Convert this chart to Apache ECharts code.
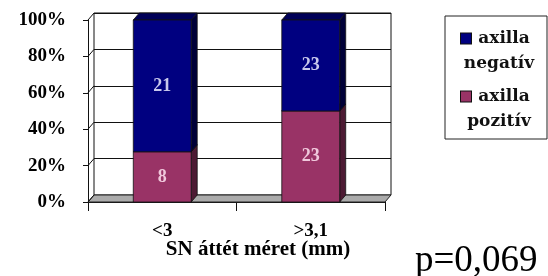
<!DOCTYPE html>
<html lang="hu">
<head>
    <meta charset="UTF-8">
    <title>SN áttét méret</title>
    <script src="https://cdn.jsdelivr.net/npm/echarts@6/dist/echarts.min.js"></script>
</head>
<body style="margin: 0; background: #fff">
<div id="chart" style="width: 548px; height: 276px"></div>
<script>
    // values
    let categories = ['<3', '>3,1'];
    let pozitivCount = [8, 23];
    let negativCount = [21, 23];
    let seriesNames = ['axilla negatív', 'axilla pozitív'];
    let yTicks = [0, 20, 40, 60, 80, 100];

    // depth of the old excel 3d look
    let DX = 6, DY = 7;
    let serif = '"Liberation Serif", "Times New Roman", serif';
    let legendFont = '"DejaVu Serif", serif';
    let seriesColors = ['#000080', '#993366'];

    let pozData = [], negData = [];
    for (let i = 0; i < categories.length; i++) {
        let total = pozitivCount[i] + negativCount[i];
        let p = pozitivCount[i] / total * 100;
        pozData.push([i, 0, p, pozitivCount[i]]);
        negData.push([i, p, 100, negativCount[i]]);
    }

    function box3d(colors, labelColor) {
        return function (params, api) {
            let cat = api.value(0);
            let lo = api.coord([cat, api.value(1)]);
            let hi = api.coord([cat, api.value(2)]);
            let w = api.size([1, 0])[0] * 0.39;
            let x0 = lo[0] - w / 2, x1 = lo[0] + w / 2;
            let yb = lo[1], yt = hi[1];
            let edge = {stroke: '#111', lineWidth: 0.8};
            return {
                type: 'group',
                children: [
                    {type: 'polygon', shape: {points: [[x1, yt], [x1 + DX, yt - DY], [x1 + DX, yb - DY], [x1, yb]]},
                        style: Object.assign({fill: colors[1]}, edge)},
                    {type: 'polygon', shape: {points: [[x0, yt], [x0 + DX, yt - DY], [x1 + DX, yt - DY], [x1, yt]]},
                        style: Object.assign({fill: colors[2]}, edge)},
                    {type: 'rect', shape: {x: x0, y: yt, width: x1 - x0, height: yb - yt},
                        style: Object.assign({fill: colors[0]}, edge)},
                    {type: 'text', x: (x0 + x1) / 2, y: (yt + yb) / 2,
                        style: {text: String(api.value(3)), fill: labelColor, font: 'bold 18px ' + serif,
                            align: 'center', verticalAlign: 'middle'}}
                ]
            };
        };
    }

    // floor plate and the little diagonals on the left wall
    function frame(params, api) {
        let v = api.value(1);
        let pt = api.coord([0, v]);
        let cs = params.coordSys;
        let x0 = cs.x, x1 = cs.x + cs.width;
        let children = [
            {type: 'line', shape: {x1: x0, y1: pt[1], x2: x0 + DX, y2: pt[1] - DY}, style: {stroke: '#111', lineWidth: 1}}
        ];
        if (v === 0) {
            children.unshift({
                type: 'polygon',
                shape: {points: [[x0, pt[1]], [x0 + DX, pt[1] - DY], [x1 + DX, pt[1] - DY], [x1, pt[1]]]},
                style: {fill: '#ababab', stroke: '#222', lineWidth: 1}
            });
        }
        return {type: 'group', children: children};
    }

    let legendRich = {
        a: {fontFamily: legendFont, fontSize: 17, fontWeight: 'bold', color: '#111', lineHeight: 25, height: 25, width: 60, align: 'center'},
        b: {fontFamily: legendFont, fontSize: 17, fontWeight: 'bold', color: '#111', lineHeight: 25, height: 25, width: 76, align: 'center'}
    };
    seriesColors.forEach(function (c, i) {
        legendRich['sq' + i] = {width: 10, height: 10, backgroundColor: c, borderColor: '#111', borderWidth: 1};
    });

    let chart = echarts.init(document.getElementById('chart'));
    let option = {
        animation: false,
        title: [
            {
                text: 'SN áttét méret (mm)', left: 258, top: 239, textAlign: 'center', padding: 0,
                textStyle: {fontFamily: serif, fontSize: 21, fontWeight: 'bold', color: '#000'}
            },
            {
                text: 'p=0,069', left: 415, top: 243, padding: 0,
                textStyle: {fontFamily: serif, fontSize: 37, fontWeight: 'normal', color: '#000'}
            }
        ],
        legend: {
            data: seriesNames.map(n => ({name: n, icon: 'none'})),
            orient: 'vertical',
            left: 445,
            top: 16,
            padding: [10, 10, 5, 11],
            itemWidth: 0,
            itemHeight: 2,
            itemGap: 8,
            borderColor: '#222',
            borderWidth: 1,
            formatter: function (name) {
                let i = seriesNames.indexOf(name);
                let parts = name.split(' ');
                return '{sq' + (i === 0 ? 0 : 1) + '|}{a|' + parts[0] + '}\n{b|' + parts[1] + '}';
            },
            textStyle: {rich: legendRich}
        },
        grid: [
            {left: 88, right: 163, top: 20, bottom: 74},
            {left: 88 + DX, right: 163 - DX, top: 20 - DY, bottom: 74 + DY,
                show: true, backgroundColor: '#fff', borderColor: '#111', borderWidth: 1}
        ],
        xAxis: [
            {
                type: 'category', gridIndex: 0, data: categories,
                axisLine: {lineStyle: {color: '#111', width: 1}},
                axisTick: {show: true, length: 9, lineStyle: {color: '#111'}},
                axisLabel: {margin: 20, color: '#000', fontFamily: serif, fontSize: 19, fontWeight: 'bold'}
            },
            {type: 'category', gridIndex: 1, data: categories, show: false}
        ],
        yAxis: [
            {
                type: 'value', gridIndex: 0, min: 0, max: 100, interval: 20,
                axisLine: {show: true, lineStyle: {color: '#111', width: 1}},
                axisTick: {show: true, length: 5, lineStyle: {color: '#111'}},
                splitLine: {show: false},
                axisLabel: {margin: 22, formatter: '{value}%', color: '#000', fontFamily: serif, fontSize: 19, fontWeight: 'bold'}
            },
            {
                type: 'value', gridIndex: 1, min: 0, max: 100, interval: 20,
                axisLine: {show: false}, axisTick: {show: false}, axisLabel: {show: false},
                splitLine: {show: true, lineStyle: {color: '#111', width: 1}}
            }
        ],
        series: [
            {
                name: 'frame', type: 'custom', xAxisIndex: 0, yAxisIndex: 0, z: 1, silent: true,
                data: yTicks.map(v => [0, v]), renderItem: frame
            },
            {
                name: seriesNames[1], type: 'custom', xAxisIndex: 0, yAxisIndex: 0, z: 3,
                itemStyle: {color: seriesColors[1]},
                data: pozData, renderItem: box3d(['#993366', '#4d1a33', '#7a2952'], '#f0c8dc')
            },
            {
                name: seriesNames[0], type: 'custom', xAxisIndex: 0, yAxisIndex: 0, z: 3,
                itemStyle: {color: seriesColors[0]},
                data: negData, renderItem: box3d(['#000080', '#000038', '#000058'], '#c8c8ec')
            }
        ]
    };
    chart.setOption(option);
</script>
</body>
</html>
